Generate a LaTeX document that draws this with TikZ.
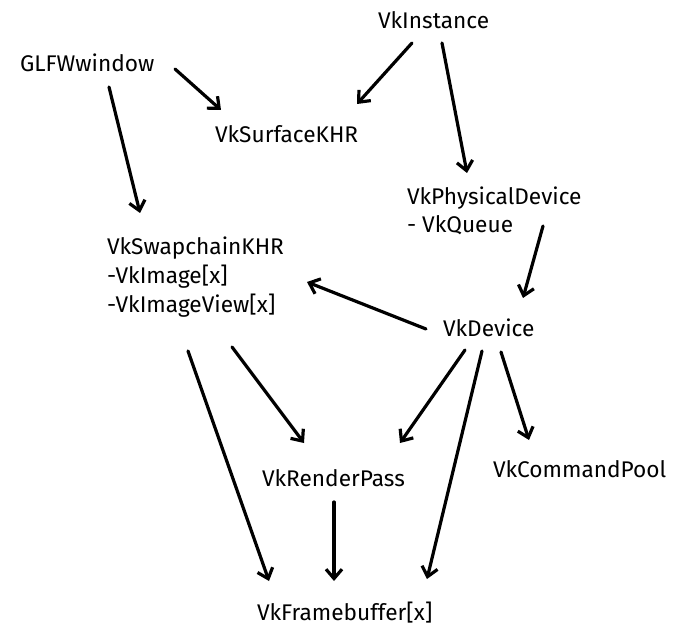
\documentclass[tikz,border=0pt]{standalone}
\usepackage{fontspec}
\setmainfont{Fira Sans}
\usetikzlibrary{arrows.meta}
\begin{document}
\begin{tikzpicture}[x=0.75pt,y=-0.75pt,
  lbl/.style={inner sep=0pt,outer sep=0pt,anchor=base west,font=\fontsize{17}{21.4}\selectfont,align=left},
  arr/.style={line width=2.4pt,-{Straight Barb[length=7pt,width=12pt]},line cap=round}]
\useasboundingbox (0,0) rectangle (681,641);
\node[lbl] (inst) at (378,29) {VkInstance};
\node[lbl] (glfw) at (20,72) {GLFWwindow};
\node[lbl] (surf) at (215,143) {VkSurfaceKHR};
\node[lbl] (phys) at (407,233) {VkPhysicalDevice\\- VkQueue};
\node[lbl] (swap) at (107,312) {VkSwapchainKHR\\-VkImage[x]\\-VkImageView[x]};
\node[lbl] (dev) at (443,336) {VkDevice};
\node[lbl] (rp) at (262,486) {VkRenderPass};
\node[lbl] (pool) at (493,477) {VkCommandPool};
\node[lbl] (fb) at (257,620) {VkFramebuffer[x]};
% arrows: offsets relative to node base west anchors
\draw[arr] ([shift={(155,-3)}]glfw.base west) -- ([shift={(6,-33)}]surf.base west);
\draw[arr] ([shift={(34,14)}]inst.base west) -- ([shift={(142,-39)}]surf.base west);
\draw[arr] ([shift={(64,14)}]inst.base west) -- ([shift={(60,-60)}]phys.base west);
\draw[arr] ([shift={(89,15)}]glfw.base west) -- ([shift={(33,-99)}]swap.base west);
\draw[arr] ([shift={(136,-7)}]phys.base west) -- ([shift={(80,-38)}]dev.base west);
\draw[arr] ([shift={(-17,-7)}]dev.base west) -- ([shift={(200,-30)}]swap.base west);
\draw[arr] ([shift={(81,39)}]swap.base west) -- ([shift={(12,-39)}]fb.base west);
\draw[arr] ([shift={(125,35)}]swap.base west) -- ([shift={(42,-43)}]rp.base west);
\draw[arr] ([shift={(22,14)}]dev.base west) -- ([shift={(138,-43)}]rp.base west);
\draw[arr] ([shift={(39,15)}]dev.base west) -- ([shift={(170,-41)}]fb.base west);
\draw[arr] ([shift={(58,16)}]dev.base west) -- ([shift={(36,-37)}]pool.base west);
\draw[arr] ([shift={(72,16)}]rp.base west) -- ([shift={(77,-39)}]fb.base west);
\end{tikzpicture}
\end{document}
